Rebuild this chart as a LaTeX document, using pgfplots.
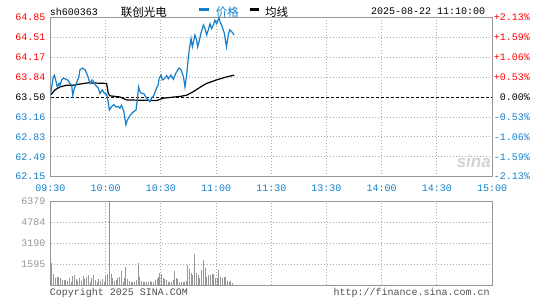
\documentclass[border=0pt]{standalone}
\usepackage{pgfplots}
\pgfplotsset{compat=1.18}
\usepackage{fontspec}
\setmainfont{Liberation Mono}
\newfontfamily\cjk{Noto Sans CJK SC}
\newfontfamily\sansb{Liberation Sans}
\definecolor{sblue}{RGB}{20,128,204}
\definecolor{sred}{RGB}{255,0,0}
\definecolor{sgrid}{RGB}{170,170,170}
\definecolor{sbox}{RGB}{150,150,150}
\definecolor{svol}{RGB}{150,150,150}
\definecolor{stext}{RGB}{80,80,80}
\newcommand{\mono}{\fontsize{10}{12}\selectfont}
\begin{document}
\begin{tikzpicture}[x=1pt,y=1pt]
\fill[white] (0,0) rectangle (545,300);
% ---------------- main price panel ----------------
\begin{axis}[
  at={(50.5pt,123.3pt)}, anchor=south west, scale only axis,
  width=441.5pt, height=159.4pt,
  xmin=0, xmax=240, ymin=62.15, ymax=64.85,
  axis line style={sbox, line width=0.8pt},
  major tick length=0pt,
  xtick={0,30,60,90,120,150,180,210,240},
  xticklabels={09:30,10:00,10:30,11:00,11:30,13:30,14:00,14:30,15:00},
  xticklabel style={anchor=base, yshift=-15pt, text=sblue, font=\mono},
  ytick={62.15,62.4875,62.825,63.1625,63.8375,64.175,64.5125,64.85},
  yticklabels={\textcolor{sblue}{62.15},\textcolor{sblue}{62.49},\textcolor{sblue}{62.83},\textcolor{sblue}{63.16},\textcolor{sred}{63.84},\textcolor{sred}{64.17},\textcolor{sred}{64.51},\textcolor{sred}{64.85}},
  extra y ticks={63.5}, extra y tick labels={63.50},
  extra y tick style={grid=major, major grid style={black, line width=0.8pt, dash pattern=on 3pt off 2pt}},
  yticklabel style={anchor=east, inner sep=0pt, xshift=-4.8pt, font=\mono},
  grid=major, major grid style={sgrid, line width=0.8pt, dash pattern=on 1pt off 2pt},
  clip=true,
]
\addplot[black, line width=1.2pt, no marks] coordinates {
(0.3,63.54) (2.4,63.62) (5.2,63.67) (8.8,63.70) (12.4,63.70) (16.0,63.72)
(20.6,63.74) (30.5,63.73) (31.4,63.56) (32.3,63.52) (37.8,63.50) (41.4,63.45)
(57.7,63.44) (61.3,63.48) (70.4,63.51) (74.0,63.53) (77.6,63.59) (83.1,63.70)
(84.9,63.73) (90.3,63.79) (95.7,63.84) (99.9,63.87)};
\addplot[sblue, line width=1.2pt, no marks] coordinates {
(0.1,63.56) (1.5,63.84) (2.1,63.87) (2.8,63.79) (3.7,63.67) (4.6,63.73)
(5.2,63.70) (6.1,63.79) (7.0,63.82) (8.3,63.80) (9.3,63.79) (10.6,63.73)
(11.5,63.70) (12.1,63.53) (13.0,63.65) (13.8,63.70) (14.7,63.79) (15.3,63.82)
(16.0,63.96) (17.5,63.99) (18.8,63.96) (20.1,63.87) (20.6,63.82) (21.5,63.73)
(22.5,63.79) (23.4,63.76) (24.5,63.70) (26.0,63.65) (26.9,63.56) (28.2,63.62)
(29.3,63.56) (30.3,63.55) (30.9,63.50) (32.0,63.28) (33.3,63.34) (34.5,63.37)
(35.6,63.33) (36.8,63.34) (37.7,63.31) (38.6,63.36) (39.9,63.25) (41.0,63.03)
(41.8,63.11) (42.9,63.17) (44.1,63.22) (45.1,63.25) (46.5,63.28) (47.3,63.48)
(47.9,63.67) (48.6,63.59) (49.5,63.56) (50.7,63.56) (51.8,63.50) (53.1,63.45)
(54.0,63.42) (54.9,63.48) (56.2,63.53) (57.6,63.65) (58.5,63.70) (59.1,63.82)
(60.1,63.87) (60.8,63.79) (61.9,63.81) (63.2,63.86) (64.1,63.81) (65.5,63.87)
(66.8,63.80) (68.1,63.90) (69.2,63.96) (69.9,63.99) (71.0,63.96) (72.3,63.84)
(73.1,63.67) (74.0,63.87) (74.9,64.16) (75.5,64.32) (76.4,64.49) (77.1,64.35)
(77.7,64.43) (78.5,64.55) (79.4,64.47) (80.0,64.35) (80.7,64.43) (81.8,64.58)
(83.1,64.72) (84.0,64.66) (84.9,64.55) (85.8,64.64) (86.7,64.74) (87.6,64.66)
(88.5,64.72) (89.4,64.80) (90.3,64.74) (91.6,64.84) (92.1,64.78) (93.0,64.72)
(94.5,64.58) (95.2,64.44) (95.7,64.35) (96.6,64.55) (97.5,64.64) (98.4,64.61)
(99.9,64.55)};
\end{axis}
% right-hand percentage labels (axis spans y=123.3..282.7, step 19.925)
\begin{scope}[every node/.style={anchor=east, inner sep=0pt, font=\mono}]
\node[text=sred] at (530,282.7) {+2.13\%};
\node[text=sred] at (530,262.775) {+1.59\%};
\node[text=sred] at (530,242.85) {+1.06\%};
\node[text=sred] at (530,222.925) {+0.53\%};
\node[text=black] at (530,203.0) {0.00\%};
\node[text=sblue] at (530,183.075) {-0.53\%};
\node[text=sblue] at (530,163.15) {-1.06\%};
\node[text=sblue] at (530,143.225) {-1.59\%};
\node[text=sblue] at (530,123.3) {-2.13\%};
\end{scope}
% ---------------- volume panel ----------------
\begin{axis}[
  at={(50.5pt,15pt)}, anchor=south west, scale only axis,
  width=441.5pt, height=83.3pt,
  xmin=0, xmax=240, ymin=0, ymax=6379,
  axis line style={sbox, line width=0.8pt},
  major tick length=0pt,
  xtick={0,30,60,90,120,150,180,210,240}, xticklabels={},
  ytick={1594.75,3189.5,4784.25,6379},
  yticklabels={1595,3190,4784,6379},
  yticklabel style={anchor=east, inner sep=0pt, xshift=-4.8pt, font=\mono, text=svol},
  grid=major, major grid style={sgrid, line width=0.8pt, dash pattern=on 1pt off 2pt},
  scaled y ticks=false,
]
\addplot[ycomb, svol, line width=1pt, no marks] coordinates {
(0.8,1721) (1.7,835) (2.7,506) (3.6,582) (4.6,582) (5.5,506) (6.4,405) (7.4,380)
(8.3,380) (9.3,304) (10.2,506) (11.2,253) (12.1,683) (13.0,759) (14.0,456) (14.9,304)
(15.9,557) (16.8,304) (17.8,709) (18.7,456) (19.6,633) (20.6,759) (21.5,253) (22.5,506)
(23.4,759) (24.4,380) (25.3,253) (26.2,456) (27.2,304) (28.1,456) (29.1,253) (30.0,759)
(31.0,835) (31.9,6328) (32.9,835) (33.8,506) (34.7,304) (35.7,380) (36.6,506) (37.6,633)
(38.5,1063) (39.5,253) (40.4,506) (41.0,1392) (41.9,456) (42.9,304) (43.8,253) (44.7,253)
(45.7,253) (46.6,380) (47.6,1721) (48.5,633) (49.5,304) (50.4,253) (51.3,202) (52.3,253)
(53.2,202) (54.2,304) (55.1,253) (56.1,253) (57.0,380) (57.9,456) (58.9,633) (59.5,885)
(60.2,835) (61.2,506) (62.1,456) (63.0,380) (64.0,253) (64.9,253) (65.9,202) (66.8,380)
(67.4,1063) (68.3,506) (69.3,456) (70.2,253) (71.2,202) (72.1,253) (73.0,202) (74.0,304)
(74.6,1569) (75.5,1215) (76.4,885) (77.4,759) (78.3,2410) (79.3,885) (80.2,759) (81.2,506)
(82.1,1139) (83.0,1898) (84.0,1265) (84.9,633) (85.9,759) (86.8,759) (87.8,810) (88.7,810)
(89.6,506) (90.6,557) (91.5,1139) (92.5,633) (93.4,557) (94.4,633) (95.3,633) (96.2,304)
(97.2,253) (98.1,304) (99.1,127)};
\end{axis}
% ---------------- header ----------------
\node[anchor=west, inner sep=0pt, font=\mono] at (49.6,288.5) {sh600363};
\node[anchor=west, inner sep=0pt, font=\cjk\fontsize{11.5}{12}\selectfont] at (120.6,288.3) {联创光电};
\draw[sblue, line width=3pt] (199.3,290) -- (209,290);
\node[anchor=west, inner sep=0pt, text=sblue, font=\cjk\fontsize{11.5}{12}\selectfont] at (215.6,288.3) {价格};
\draw[black, line width=3pt] (249.6,290) -- (259.3,290);
\node[anchor=west, inner sep=0pt, font=\cjk\fontsize{11.5}{12}\selectfont] at (265,288.3) {均线};
\node[anchor=east, inner sep=0pt, font=\mono] at (485.3,288.5) {2025-08-22 11:10:00};
% ---------------- footer ----------------
\node[anchor=west, inner sep=0pt, text=stext, font=\mono] at (49.6,7) {Copyright 2025 SINA.COM};
\node[anchor=east, inner sep=0pt, text=stext, font=\mono] at (489.8,7) {http://finance.sina.com.cn};
% watermark
\node[anchor=east, inner sep=0pt, text=gray!35, font=\sansb\bfseries\itshape\fontsize{17}{17}\selectfont] at (491,139) {sina};
\end{tikzpicture}
\end{document}
